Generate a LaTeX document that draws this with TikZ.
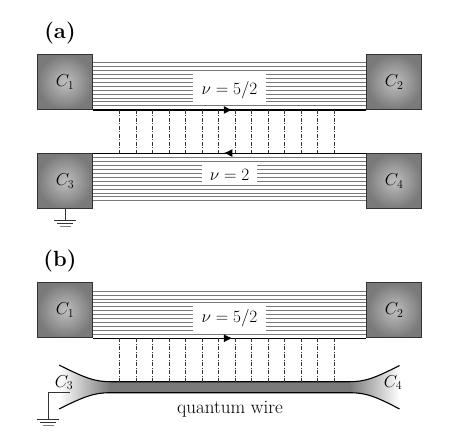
\documentclass[tikz,border=0pt]{standalone}
\usepackage{amsmath,amssymb}
\usetikzlibrary{arrows.meta,positioning,calc}
\definecolor{contactEdge}{HTML}{333333}
\definecolor{edgeGray}{HTML}{777777}
\definecolor{wireGray}{HTML}{7A7A7A}
\begin{document}
\begin{tikzpicture}[
  x=1pt, y=-1pt,
  contact/.style={draw=contactEdge, line width=.9pt, minimum size=55pt, inner sep=0pt, inner color=black!25, outer color=black!52, font=\fontsize{17.28}{17.28}\selectfont},
  edgeline/.style={edgeGray, line width=.5pt},
  thickedge/.style={black, line width=1.1pt},
  tunnel/.style={black!80, line width=.45pt, dash pattern=on 4pt off 1.5pt on 1pt off 1.5pt},
  filling/.style={fill=white, inner sep=0pt, font=\fontsize{17.28}{17.28}\selectfont},
  panel/.style={font=\fontsize{22}{22}\selectfont\bfseries},
  midarrow/.style={-{Latex[length=3mm,width=2.8mm]}, thickedge},
  lead/.style={black!80, line width=.6pt},
  gnd/.pic={
    \draw[lead] (-11,0) -- (11,0);
    \draw[lead] (-8,3.2) -- (8,3.2);
    \draw[lead, gray] (-5.5,6) -- (5.5,6);
  }
]
\useasboundingbox (0,0) rectangle (458,439);
% panel (a)
\node[panel] (labA) at (60,33) {(a)};
\node[contact] (c1a) at (65,82) {$C_1$};
\node[contact] (c2a) at (394.2,82) {$C_2$};
\node[contact] (c3a) at (65,181) {$C_3$};
\node[contact] (c4a) at (394.2,181) {$C_4$};
\foreach \i in {0,...,11} {
  \draw[edgeline] ([yshift=-8.6pt-\i*3.9pt]c1a.north east) -- ([yshift=-8.6pt-\i*3.9pt]c2a.north west);
  \draw[edgeline] ([yshift=8.4pt+\i*3.9pt]c3a.south east) -- ([yshift=8.4pt+\i*3.9pt]c4a.south west);
}
\node[filling, minimum width=73pt, minimum height=31pt] (nuA) at (229.5,89.7) {$\nu=5/2$};
\node[filling, minimum width=55pt, minimum height=21pt] (nuB) at (229.5,174.5) {$\nu=2$};
\draw[thickedge] (c1a.south east) -- (c2a.south west);
\draw[thickedge] (c3a.north east) -- (c4a.north west);
\draw[midarrow] (c1a.south east) -- ([xshift=139.5pt]c1a.south east);
\draw[midarrow] (c4a.north west) -- ([xshift=-142.5pt]c4a.north west);
\foreach \i in {0,...,13} {
  \draw[tunnel] ([xshift=26.6pt+\i*16.5pt]c1a.south east) -- ([xshift=26.6pt+\i*16.5pt]c3a.north east);
}
\coordinate (gndA) at ([yshift=-11pt]c3a.south);
\draw[lead] (c3a.south) -- (gndA);
\pic at (gndA) {gnd};
% panel (b)
\node[panel] (labB) at (60,261) {(b)};
\node[contact] (c1b) at (65,310.3) {$C_1$};
\node[contact] (c2b) at (394.2,310.3) {$C_2$};
\foreach \i in {0,...,11} {
  \draw[edgeline] ([yshift=-8.6pt-\i*3.9pt]c1b.north east) -- ([yshift=-8.6pt-\i*3.9pt]c2b.north west);
}
\node[filling, minimum width=73pt, minimum height=31pt] (nuC) at (229.5,318) {$\nu=5/2$};
\draw[thickedge] (c1b.south east) -- (c2b.south west);
\draw[midarrow] (c1b.south east) -- ([xshift=139.5pt]c1b.south east);
\node[fill=wireGray, minimum width=240pt, minimum height=11pt, inner sep=0pt] (wire) at (230,387.2) {};
\shade[left color=white, right color=wireGray]
  (59,365) .. controls (85,378) and (95,381.7) .. (110.5,381.7) -- (110.5,392.7)
  .. controls (95,392.7) and (85,396) .. (59,409) -- cycle;
\shade[left color=wireGray, right color=white]
  (399.5,365.5) .. controls (375,378) and (365,381.7) .. (349.5,381.7) -- (349.5,392.7)
  .. controls (365,392.7) and (375,396) .. (399.5,409) -- cycle;
\draw[thickedge] (59,365) .. controls (85,378) and (95,381.7) .. (110,381.7) -- (350,381.7)
  .. controls (365,381.7) and (375,378) .. (399.5,365.5);
\draw[thickedge] (59,409) .. controls (85,396) and (95,392.7) .. (110,392.7) -- (350,392.7)
  .. controls (365,392.7) and (375,396) .. (399.5,409);
\foreach \i in {0,...,13} {
  \draw[tunnel] ([xshift=26.6pt+\i*16.5pt]c1b.south east) -- ([xshift=26.6pt+\i*16.5pt]c1b.south east |- wire.north);
}
\node[font=\fontsize{17.28}{17.28}\selectfont, inner sep=0pt] (c3b) at (64,382.5) {$C_3$};
\node[font=\fontsize{17.28}{17.28}\selectfont, inner sep=0pt] (c4b) at (393,382.5) {$C_4$};
\node[below=8pt of wire, font=\fontsize{19}{19}\selectfont, inner sep=0pt] (wireLab) {quantum wire};
\coordinate (leadB) at (70,392.3);
\coordinate (gndB) at (48,419);
\draw[lead] (leadB) -| (gndB);
\pic at (gndB) {gnd};
\end{tikzpicture}
\end{document}
